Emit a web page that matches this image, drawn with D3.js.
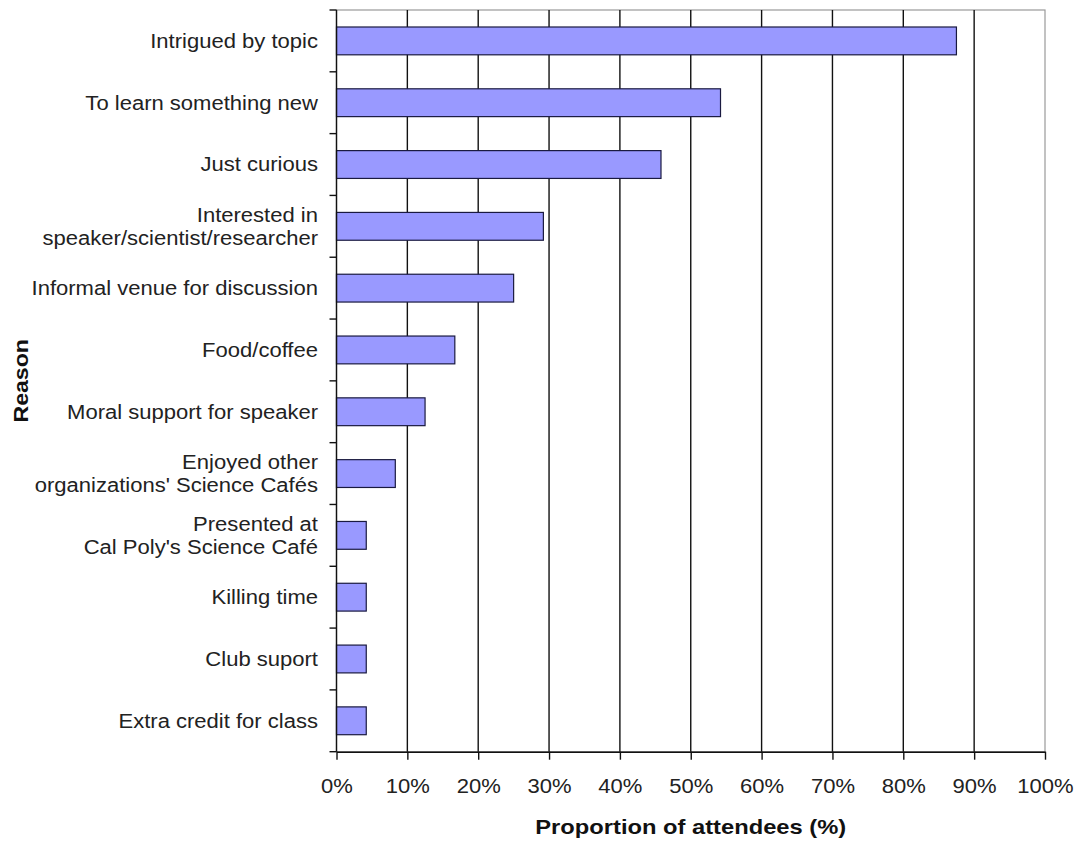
<!DOCTYPE html>
<html><head><meta charset="utf-8">
<script src="https://cdn.jsdelivr.net/npm/d3@7"></script>
<style>body{margin:0;background:#fff;} svg{display:block;font-family:"Liberation Sans",Arial,sans-serif;}</style>
</head><body>
<svg id="c" width="1076" height="841"></svg>
<script>
const categories = [
  ["Intrigued by topic"],
  ["To learn something new"],
  ["Just curious"],
  ["Interested in","speaker/scientist/researcher"],
  ["Informal venue for discussion"],
  ["Food/coffee"],
  ["Moral support for speaker"],
  ["Enjoyed other","organizations' Science Cafés"],
  ["Presented at","Cal Poly's Science Café"],
  ["Killing time"],
  ["Club suport"],
  ["Extra credit for class"]
];
const values = [87.5, 54.2, 45.8, 29.2, 25.0, 16.7, 12.5, 8.3, 4.2, 4.2, 4.2, 4.2];
const xTicks = [0,10,20,30,40,50,60,70,80,90,100];
const xTitle = "Proportion of attendees (%)";
const yTitle = "Reason";

const SX = 1.13; // horizontal stretch of the original rendering
const svg = d3.select("#c");
const L = 336.5, R = 1045, T = 10, B = 751.7;
const x = d3.scaleLinear().domain([0,100]).range([L,R]);
const idx = categories.map((d,i)=>i);
const y = d3.scaleBand().domain(idx).range([T,B]).paddingInner(0.55).paddingOuter(0.275);

// plot border (gray)
svg.append("rect").attr("x",L).attr("y",T).attr("width",R-L).attr("height",B-T)
  .attr("fill","none").attr("stroke","#999").attr("stroke-width",1.2);

// gridlines
svg.append("g").selectAll("line").data(xTicks.filter(t=>t>0&&t<100)).join("line")
  .attr("x1",d=>x(d)).attr("x2",d=>x(d)).attr("y1",T).attr("y2",B)
  .attr("stroke","#111").attr("stroke-width",1.4);

// bars
svg.append("g").selectAll("rect").data(values).join("rect")
  .attr("x",x(0)).attr("y",(d,i)=>y(i)).attr("width",d=>x(d)-x(0)).attr("height",y.bandwidth())
  .attr("fill","#9999ff").attr("stroke","#1a1a40").attr("stroke-width",1.2);

// x axis
const xa = svg.append("g").attr("transform",`translate(0,${B})`)
  .call(d3.axisBottom(x).tickValues(xTicks).tickFormat(d=>d+"%").tickSize(8).tickSizeOuter(0));
xa.select(".domain").attr("stroke","#111").attr("stroke-width",1.4);
xa.selectAll(".tick line").attr("stroke","#111").attr("stroke-width",1.4);
xa.selectAll(".tick text")
  .attr("font-size",19.5).attr("fill","#222").attr("y",0).attr("dy",null)
  .attr("font-family","Liberation Sans, Arial, sans-serif")
  .attr("transform",`translate(0,${793-B}) scale(${SX},1)`);

// y axis line and ticks at band boundaries
svg.append("line").attr("x1",L).attr("x2",L).attr("y1",T).attr("y2",B).attr("stroke","#111").attr("stroke-width",1.4);
const bounds = d3.range(categories.length+1).map(i=>T + i*(B-T)/categories.length);
svg.append("g").selectAll("line").data(bounds).join("line")
  .attr("x1",L-7).attr("x2",L).attr("y1",d=>d).attr("y2",d=>d)
  .attr("stroke","#111").attr("stroke-width",1.4);

// category labels
const lab = svg.append("g").attr("font-size",19.5).attr("fill","#222").attr("text-anchor","end");
categories.forEach((lines,i)=>{
  const cy = y(i)+y.bandwidth()/2;
  const n = lines.length, lh = 23;
  lines.forEach((s,j)=>{
    const ty = cy + (j-(n-1)/2)*lh + 6.8;
    lab.append("text").attr("transform",`translate(318,${ty}) scale(${SX},1)`).text(s);
  });
});

// titles
svg.append("text").attr("transform",`translate(${(L+R)/2},834) scale(${SX},1)`).attr("text-anchor","middle")
  .attr("font-size",21).attr("font-weight","bold").attr("fill","#111").text(xTitle);
svg.append("text").attr("transform",`translate(28,${(T+B)/2}) rotate(-90) scale(1.1,1)`).attr("text-anchor","middle")
  .attr("font-size",21).attr("font-weight","bold").attr("fill","#111").text(yTitle);
</script>
</body></html>
